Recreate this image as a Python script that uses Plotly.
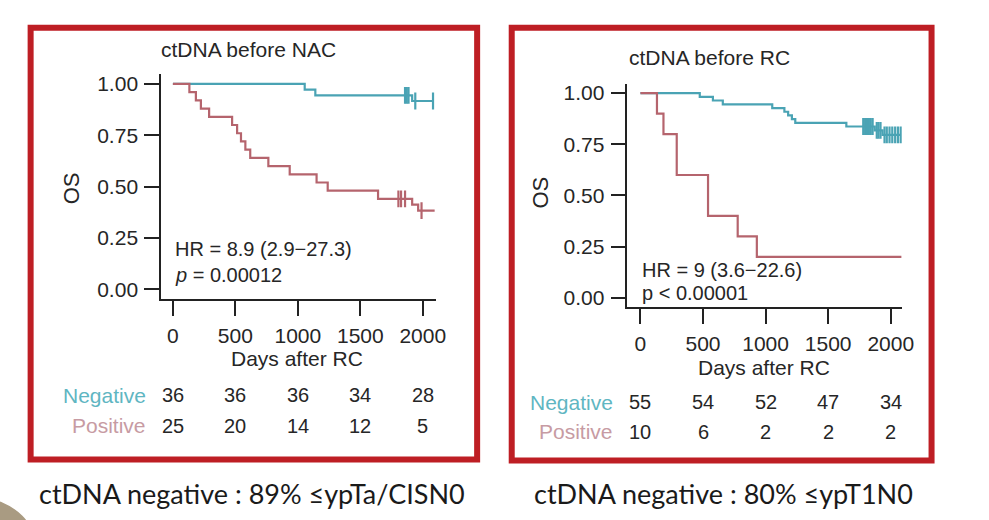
import plotly.graph_objects as go

# ---------------- data ----------------
# ctDNA before NAC (left panel)
nac_neg_t = [0, 1055, 1140, 1915, 2082]
nac_neg_s = [1.0, 0.972, 0.944, 0.917, 0.917]
nac_neg_cens_t = [1858, 1872, 1886, 1940, 2082]
nac_neg_cens_s = [0.944, 0.944, 0.944, 0.917, 0.917]

nac_pos_t = [0, 132, 184, 224, 290, 474, 514, 545, 580, 619, 764, 935, 1150, 1239, 1642, 1915, 1963, 2095]
nac_pos_s = [1.0, 0.96, 0.92, 0.88, 0.84, 0.80, 0.76, 0.72, 0.68, 0.64, 0.60, 0.56, 0.52, 0.48, 0.44, 0.412, 0.383, 0.383]
nac_pos_cens_t = [1805, 1826, 1858, 1990]
nac_pos_cens_s = [0.44, 0.44, 0.44, 0.383]

# ctDNA before RC (right panel)
rc_neg_t = [0, 474, 579, 658, 1053, 1150, 1180, 1210, 1237, 1645, 1872, 1934, 2079]
rc_neg_s = [1.0, 0.982, 0.964, 0.945, 0.927, 0.909, 0.891, 0.873, 0.855, 0.837, 0.818, 0.796, 0.796]
rc_neg_cens_t = [1780, 1795, 1810, 1825, 1840, 1855, 1888, 1902, 1918, 1950, 1968, 1990, 2012, 2035, 2057, 2079]
rc_neg_cens_s = [0.837, 0.837, 0.837, 0.837, 0.837, 0.837, 0.818, 0.818, 0.818, 0.796, 0.796, 0.796, 0.796, 0.796, 0.796, 0.796]

rc_pos_t = [0, 132, 184, 290, 540, 777, 930, 2085]
rc_pos_s = [1.0, 0.9, 0.8, 0.6, 0.4, 0.3, 0.2, 0.2]

# risk tables
risk_times = [0, 500, 1000, 1500, 2000]
nac_neg_risk = [36, 36, 36, 34, 28]
nac_pos_risk = [25, 20, 14, 12, 5]
rc_neg_risk = [55, 54, 52, 47, 34]
rc_pos_risk = [10, 6, 2, 2, 2]

x_ticks = [0, 500, 1000, 1500, 2000]
x_ticktext = ["0", "500", "1000", "1500", "2000"]
y_ticks = [0, 0.25, 0.5, 0.75, 1.0]
y_ticktext = ["0.00", "0.25", "0.50", "0.75", "1.00"]

titles = ["ctDNA before NAC", "ctDNA before RC"]
hr_texts = ["HR = 8.9 (2.9\u221227.3)", "HR = 9 (3.6\u221222.6)"]
p_texts = ["<i>p</i> = 0.00012", "p < 0.00001"]
footers = ["ctDNA negative : 89% \u2264ypTa/CISN0", "ctDNA negative : 80% \u2264ypT1N0"]
group_labels = ["Negative", "Positive"]

# ---------------- style ----------------
W, H = 989, 520
TEAL = "#4AA3B4"
RED = "#B5646D"
TEAL_LBL = "#5FB6C2"
RED_LBL = "#C79BA3"
TXT = "#262626"
FONT = "Liberation Sans, Arial, sans-serif"
FS = 21


def px(x):
    return x / W


def py(y):
    return 1 - y / H


fig = go.Figure()


def add_curve(t, s, color, xa, ya):
    fig.add_trace(go.Scatter(x=t, y=s, mode="lines", line=dict(color=color, width=2.2, shape="hv"),
                             xaxis=xa, yaxis=ya, hoverinfo="skip", showlegend=False))


def add_cens(t, s, color, xa, ya):
    fig.add_trace(go.Scatter(x=t, y=s, mode="markers",
                             marker=dict(symbol="line-ns", size=12, line=dict(color=color, width=2.2)),
                             xaxis=xa, yaxis=ya, hoverinfo="skip", showlegend=False))


add_curve(nac_neg_t, nac_neg_s, TEAL, "x", "y")
add_curve(nac_pos_t, nac_pos_s, RED, "x", "y")
add_cens(nac_neg_cens_t, nac_neg_cens_s, TEAL, "x", "y")
add_cens(nac_pos_cens_t, nac_pos_cens_s, RED, "x", "y")

add_curve(rc_neg_t, rc_neg_s, TEAL, "x2", "y2")
add_curve(rc_pos_t, rc_pos_s, RED, "x2", "y2")
add_cens(rc_neg_cens_t, rc_neg_cens_s, TEAL, "x2", "y2")

axis_common = dict(showline=True, linecolor="#222", linewidth=1.5, ticks="outside", ticklen=15,
                   tickwidth=1.5, tickcolor="#222", showgrid=False, zeroline=False,
                   tickfont=dict(family=FONT, size=FS, color=TXT), ticklabelstandoff=2, fixedrange=True)

fig.update_layout(
    width=W, height=H, margin=dict(l=0, r=0, t=0, b=0),
    paper_bgcolor="white", plot_bgcolor="white",
    xaxis=dict(domain=[px(163), px(441)], range=[-95, 2103], anchor="y",
               tickvals=x_ticks, ticktext=x_ticktext, **axis_common),
    yaxis=dict(domain=[py(299), py(72)], range=[-0.048, 1.047], anchor="x",
               tickvals=y_ticks, ticktext=y_ticktext, **axis_common),
    xaxis2=dict(domain=[px(635), px(913)], range=[-105, 2089], anchor="y2",
                tickvals=x_ticks, ticktext=x_ticktext, **axis_common),
    yaxis2=dict(domain=[py(307), py(82)], range=[-0.045, 1.0435], anchor="x2",
                tickvals=y_ticks, ticktext=y_ticktext, **axis_common),
)

ann = []


def txt(x, y, text, size=FS, color=TXT, xanchor="center", angle=0, family=FONT, xref="paper"):
    ann.append(dict(x=x if xref != "paper" else px(x), y=py(y), xref=xref, yref="paper", text=text,
                    showarrow=False, xanchor=xanchor, yanchor="middle", textangle=angle,
                    font=dict(family=family, size=size, color=color)))


# panel titles / labels
txt(252, 47, titles[0], size=FS)
txt(718, 55, titles[1], size=FS)
txt(72, 187, "OS", angle=-90, size=22)
txt(547, 191, "OS", angle=-90, size=22)
txt(301, 359, "Days after RC")
txt(773, 368, "Days after RC")

# HR and p
txt(175, 248, hr_texts[0], size=20, xanchor="left")
txt(175, 275, p_texts[0], size=20, xanchor="left")
txt(648, 270, hr_texts[1], size=20, xanchor="left")
txt(648, 293, p_texts[1], size=20, xanchor="left")

# risk tables
txt(150, 396, group_labels[0], color=TEAL_LBL, xanchor="right", size=21)
txt(150, 427, group_labels[1], color=RED_LBL, xanchor="right", size=21)
txt(623, 403, group_labels[0], color=TEAL_LBL, xanchor="right", size=21)
txt(623, 433, group_labels[1], color=RED_LBL, xanchor="right", size=21)
for t, a, b in zip(risk_times, nac_neg_risk, nac_pos_risk):
    txt(t, 396, str(a), size=20, xref="x")
    txt(t, 427, str(b), size=20, xref="x")
for t, a, b in zip(risk_times, rc_neg_risk, rc_pos_risk):
    txt(t, 403, str(a), size=20, xref="x2")
    txt(t, 433, str(b), size=20, xref="x2")

# footers
txt(255, 495, footers[0], size=27, color="#1a1a1a", family="Lato, Roboto, sans-serif")
txt(732, 495, footers[1], size=27, color="#1a1a1a", family="Lato, Roboto, sans-serif")

fig.update_layout(annotations=ann)

# red frames and decorative blob
BORDER = "#BE1E24"
shapes = [
    dict(type="rect", xref="paper", yref="paper", x0=px(31), x1=px(483), y0=py(461), y1=py(25),
         line=dict(color=BORDER, width=6), fillcolor="rgba(0,0,0,0)", layer="below"),
    dict(type="rect", xref="paper", yref="paper", x0=px(518), x1=px(943), y0=py(462), y1=py(25),
         line=dict(color=BORDER, width=6), fillcolor="rgba(0,0,0,0)", layer="below"),
    dict(type="circle", xref="paper", yref="paper", x0=px(-80), x1=px(40), y0=py(620), y1=py(500),
         line=dict(width=0), fillcolor="#A99B82", layer="below"),
]
fig.update_layout(shapes=shapes)

fig.write_html("out.html", config={"displayModeBar": False},
               post_script="document.body.style.margin='0';document.body.style.overflow='hidden';")
